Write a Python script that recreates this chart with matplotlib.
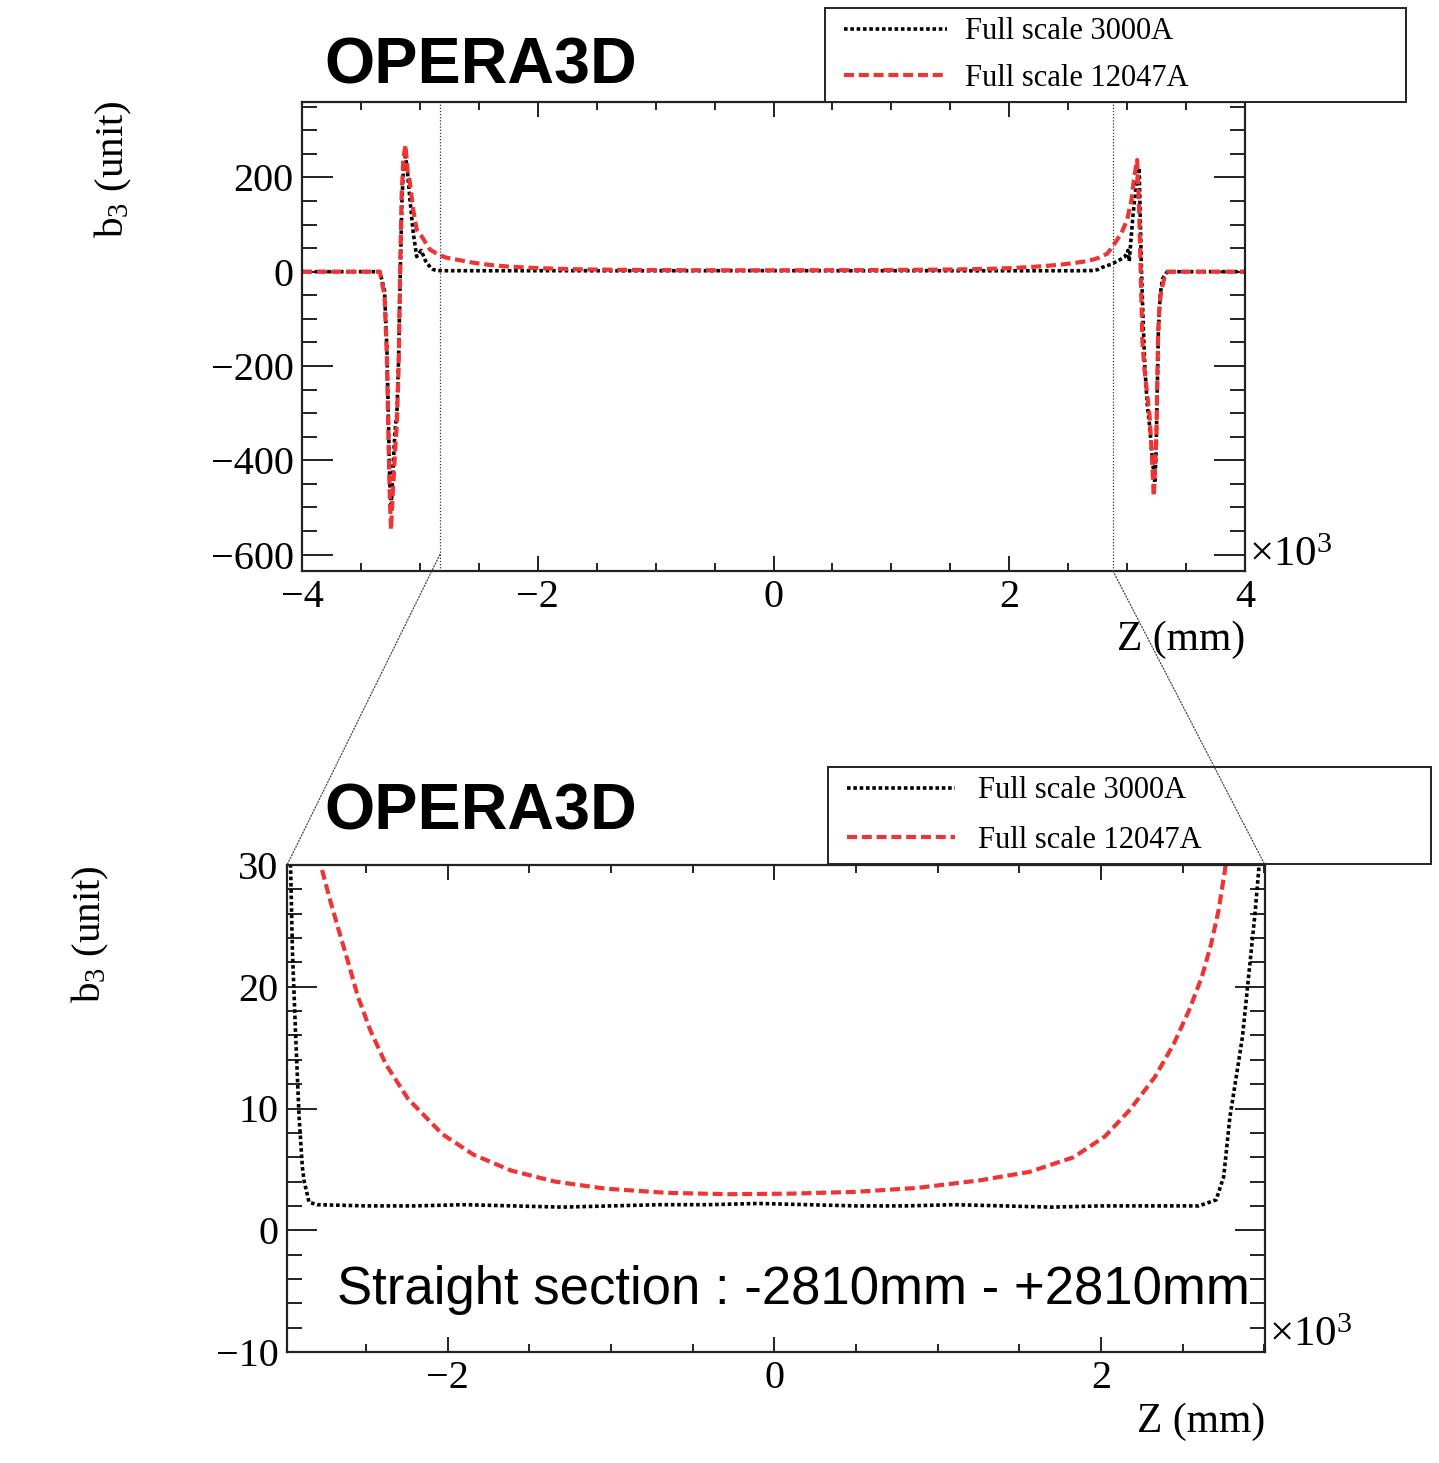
import matplotlib
matplotlib.use('Agg')
import matplotlib.pyplot as plt
from matplotlib.ticker import MultipleLocator, FixedLocator, FuncFormatter
from matplotlib.patches import ConnectionPatch
from matplotlib import font_manager

# ---------------- data ----------------
z_3000 = [-4000, -3500, -3340, -3300, -3280, -3268, -3255, -3242, -3230, -3212,
          -3195, -3180, -3166, -3152, -3138, -3122, -3105, -3084, -3056, -3027,
          -2990, -2968, -2952, -2932, -2911, -2891, -2881, -2850, -2800, -2500,
          -2200, -1900, -1600, -1300, -1000, -700, -400, -100, 200, 500, 800,
          1100, 1400, 1700, 2000, 2300, 2600, 2706, 2752, 2790, 2829, 2867, 2905,
          2943, 2982, 3006, 3018, 3030, 3050, 3075, 3102, 3112, 3122,
          3135, 3150, 3170, 3192, 3215, 3235, 3245, 3255, 3265, 3280, 3300, 3340,
          3500, 4000]
b3_3000 = [0, 0, 0, -40, -160, -300, -450, -500, -430, -340,
           -300, -180, 0, 150, 225, 245, 210, 153, 82, 32,
           45, 33, 23, 16, 9.3, 5.2, 4.1, 2.3, 2.1, 2.0,
           2.0, 2.1, 2.0, 1.9, 2.0, 2.1, 2.1, 2.2, 2.1, 2.0, 2.0,
           2.1, 2.0, 1.9, 2.0, 2.0, 2.0, 2.5, 4.4, 9.3, 12.6, 15.9, 20.9,
           25.9, 32, 45, 22, 60, 120, 180, 220, 110, 0,
           -100, -200, -280, -330, -400, -448, -390, -260, -130, -50, -15, 0,
           0, 0]

z_12047 = [-4000, -3500, -3340, -3300, -3280, -3268, -3255, -3245, -3230, -3210,
           -3195, -3180, -3168, -3155, -3140, -3122, -3105, -3084, -3056, -3027,
           -2985, -2914, -2850, -2780, -2723, -2665, -2608, -2551, -2474, -2378,
           -2244, -2034, -1842, -1612, -1345, -1038, -655, -273, 110, 493, 876,
           1259, 1565, 1833, 2024, 2178, 2331, 2446, 2541, 2618, 2675, 2721, 2760,
           2830, 2879, 2952, 3000, 3037, 3060, 3085,
           3100, 3115, 3130, 3148, 3170, 3191, 3210, 3226, 3240, 3249, 3256, 3263,
           3275, 3291, 3320, 3348, 3500, 4000]
b3_12047 = [0, 0, 0, -50, -180, -340, -480, -547, -470, -380,
            -320, -200, 0, 160, 240, 269, 215, 188, 131, 89,
            75, 47, 37, 30.1, 27.2, 24.5, 21.9, 19.2, 16.4, 13.6,
            10.8, 7.9, 6.2, 4.9, 4.0, 3.42, 3.07, 2.96, 3.01, 3.15, 3.48,
            4.1, 4.8, 6.0, 7.7, 9.9, 12.6, 15.3, 18.1, 20.8, 23.5, 26.3, 29.6,
            38, 54, 82, 110, 153, 200, 237,
            150, 0, -150, -210, -260, -307, -390, -477, -400, -342, -230, -130,
            -70, -38, -10, 0, 0, 0]

series_labels = ['Full scale 3000A', 'Full scale 12047A']
top_xticks = [-4000, -2000, 0, 2000, 4000]
top_yticks = [-600, -400, -200, 0, 200]
bot_xticks = [-2000, 0, 2000]
bot_yticks = [-10, 0, 10, 20, 30]
zoom_edges = [-2830, 2880]
title_text = 'OPERA3D'
note_text = 'Straight section : -2810mm - +2810mm'
ylabel_text = 'b$_{\\mathrm{3}}$ (unit)'
xlabel_text = 'Z (mm)'
exp_text = '\u00d710$^{\\mathrm{3}}$'

# ---------------- figure ----------------
W, H = 1439, 1463
serif = 'Liberation Serif'
plt.rcParams['font.family'] = [serif, 'DejaVu Serif']
plt.rcParams['mathtext.fontset'] = 'custom'
plt.rcParams['mathtext.rm'] = serif
plt.rcParams['mathtext.it'] = serif + ':italic'

names = {f.name for f in font_manager.fontManager.ttflist}
if 'Liberation Sans Narrow' in names:
    note_family, note_size = 'Liberation Sans Narrow', 44
else:
    note_family, note_size = 'Liberation Sans', 38

fig = plt.figure(figsize=(W / 100, H / 100), dpi=100)

def fbox(l, t, r, b):
    return [l / W, 1 - b / H, (r - l) / W, (b - t) / H]

ax_top = fig.add_axes(fbox(302, 102, 1245, 571))
ax_bot = fig.add_axes(fbox(287, 865, 1265, 1352))

red = '#ee3535'
black_style = dict(color='black', lw=2.6, linestyle=(0, (1, 0.75)))
red_style = dict(color=red, lw=3.0, linestyle=(0, (2.4, 1.15)))

TICK = 29

def kfmt(v, p):
    return f'{v / 1000:g}'.replace('-', '\u2212')

def yfmt(v, p):
    return f'{v:g}'.replace('-', '\u2212')

def style(ax, xt, xminor, yt, yminor, ylen):
    ax.xaxis.set_major_locator(FixedLocator(xt))
    ax.xaxis.set_minor_locator(MultipleLocator(xminor))
    ax.yaxis.set_major_locator(FixedLocator(yt))
    ax.yaxis.set_minor_locator(MultipleLocator(yminor))
    ax.xaxis.set_major_formatter(FuncFormatter(kfmt))
    ax.yaxis.set_major_formatter(FuncFormatter(yfmt))
    ax.tick_params(which='both', direction='in', top=True, right=True,
                   width=1.4, color='#222222', labelsize=TICK)
    ax.tick_params(axis='y', which='major', length=ylen, pad=6)
    ax.tick_params(axis='y', which='minor', length=ylen / 2)
    ax.tick_params(axis='x', which='major', length=10.8, pad=6)
    ax.tick_params(axis='x', which='minor', length=5.5)
    for s in ax.spines.values():
        s.set_linewidth(1.6)
        s.set_color('#222222')

# top panel
l1, = ax_top.plot(z_3000, b3_3000, **black_style)
l2, = ax_top.plot(z_12047, b3_12047, **red_style)
ax_top.set_xlim(-4000, 4000)
ax_top.set_ylim(-635, 360)
for ze in zoom_edges:
    ax_top.axvline(ze, color='#333333', lw=0.9, linestyle=(0, (1, 1.5)))
style(ax_top, top_xticks, 500, top_yticks, 50, 22)

# bottom panel
ax_bot.plot(z_3000, b3_3000, **black_style)
ax_bot.plot(z_12047, b3_12047, **red_style)
ax_bot.set_xlim(-2985, 3005)
ax_bot.set_ylim(-10, 30)
style(ax_bot, bot_xticks, 500, bot_yticks, 2, 21.6)

# zoom connector lines
conA = ConnectionPatch(xyA=(zoom_edges[0], -600), coordsA=ax_top.transData,
                       xyB=(0, 1), coordsB=ax_bot.transAxes,
                       color='#444444', lw=0.9, linestyle=(0, (1, 1.5)))
conB = ConnectionPatch(xyA=(zoom_edges[1], -635), coordsA=ax_top.transData,
                       xyB=(1, 1), coordsB=ax_bot.transAxes,
                       color='#444444', lw=0.9, linestyle=(0, (1, 1.5)))
fig.add_artist(conA)
fig.add_artist(conB)

# legends
LEG = 22

def make_legend(ax, l, t, r, bpad, spacing, hlen, htpad):
    leg = ax.legend([l1, l2], series_labels, loc='upper left',
                    bbox_to_anchor=(l / W, 1 - t / H, (r - l) / W, 0),
                    bbox_transform=fig.transFigure, mode='expand',
                    borderaxespad=0, fancybox=False, edgecolor='#222222',
                    framealpha=1, fontsize=LEG, borderpad=bpad, numpoints=2,
                    labelspacing=spacing, handlelength=hlen, handletextpad=htpad)
    leg.get_frame().set_linewidth(1.4)
    return leg

make_legend(ax_top, 825, 8, 1406, 0.31, 0.57, 3.97, 0.31)
make_legend(ax_bot, 828, 767, 1431, 0.31, 0.66, 4.15, 0.45)

# texts
bold_sans = dict(family='Liberation Sans', weight='bold', fontsize=46.5)
fig.text(324 / W, 1 - 66 / H, title_text, va='center', ha='left', **bold_sans)
fig.text(324 / W, 1 - 812 / H, title_text, va='center', ha='left', **bold_sans)

fig.text(113 / W, 1 - 100 / H, ylabel_text, rotation=90, ha='center', va='top', fontsize=29.5)
fig.text(90 / W, 1 - 865 / H, ylabel_text, rotation=90, ha='center', va='top', fontsize=29.5)

fig.text(1245 / W, 1 - 640 / H, xlabel_text, ha='right', va='center', fontsize=30)
fig.text(1265 / W, 1 - 1422 / H, xlabel_text, ha='right', va='center', fontsize=30)

fig.text(1249 / W, 1 - 556 / H, exp_text, ha='left', va='center', fontsize=31)
fig.text(1269 / W, 1 - 1336 / H, exp_text, ha='left', va='center', fontsize=31)

fig.text(337 / W, 1 - 1290 / H, note_text, ha='left', va='center',
         family=note_family, fontsize=note_size)

fig.savefig('out.png', dpi=100, facecolor='white')
